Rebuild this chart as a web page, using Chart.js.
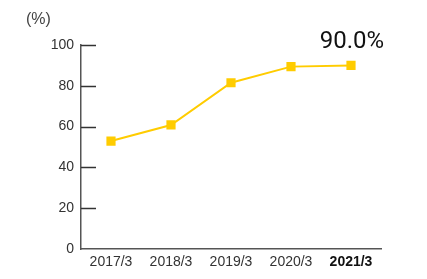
<!DOCTYPE html>
<html>
<head>
<meta charset="utf-8">
<script src="https://cdn.jsdelivr.net/npm/chart.js@4"></script>
<style>
  html, body { margin: 0; padding: 0; background: #fff; }
  #wrap { position: relative; width: 427px; height: 279px; }
</style>
</head>
<body>
<div id="wrap"><canvas id="myChart" width="427" height="279"></canvas></div>
<script>
// Data
const labels = ['2017/3', '2018/3', '2019/3', '2020/3', '2021/3'];
const ratio = [52.9, 60.8, 81.5, 89.4, 90.0];
const yTicks = [0, 20, 40, 60, 80, 100];
const unitLabel = '(%)';
const lastLabel = '90.0%';

const yellow = '#FFCC00';
const fontFamily = '"Liberation Sans", Arial, sans-serif';

// Short tick marks on the inside of the y axis, plus unit and value label
const decorations = {
  id: 'decorations',
  afterDraw(chart) {
    const { ctx, scales: { y } } = chart;
    ctx.save();
    ctx.strokeStyle = '#333';
    ctx.lineWidth = 1.5;
    y.ticks.forEach(t => {
      const py = Math.round(y.getPixelForValue(t.value)) + 0.5;
      if (t.value === 0) return;
      ctx.beginPath();
      ctx.moveTo(y.right, py);
      ctx.lineTo(y.right + 15, py);
      ctx.stroke();
    });

    ctx.fillStyle = '#444';
    ctx.font = '16px ' + fontFamily;
    ctx.textAlign = 'left';
    ctx.textBaseline = 'alphabetic';
    ctx.fillText(unitLabel, 26, 24);

    const meta = chart.getDatasetMeta(0);
    const last = meta.data[meta.data.length - 1];
    ctx.fillStyle = '#111';
    ctx.font = '24px Roboto, ' + fontFamily;
    ctx.textAlign = 'center';
    ctx.fillText(lastLabel, last.x + 1, last.y - 17);
    ctx.restore();
  }
};

const config = {
  type: 'line',
  data: {
    labels: labels,
    datasets: [{
      data: ratio,
      borderColor: yellow,
      backgroundColor: yellow,
      borderWidth: 2,
      pointStyle: 'rect',
      pointRadius: 6.5,
      pointHoverRadius: 6.5,
      pointBorderWidth: 0,
      tension: 0
    }]
  },
  options: {
    responsive: false,
    animation: false,
    layout: { padding: { top: 45, right: 46, left: 0, bottom: 0 } },
    plugins: {
      legend: { display: false },
      tooltip: { enabled: false }
    },
    scales: {
      x: {
        offset: true,
        grid: { display: false, drawTicks: false },
        border: { display: true, color: '#555', width: 1.5 },
        afterFit: s => { s.height = 30; },
        ticks: {
          padding: 5,
          color: ctx => ctx.index === labels.length - 1 ? '#111' : '#333',
          font: ctx => ({
            family: fontFamily,
            size: 14,
            weight: ctx.index === labels.length - 1 ? 'bold' : 'normal'
          })
        }
      },
      y: {
        min: 0,
        max: 100,
        afterFit: s => { s.width = 81; },
        afterBuildTicks: s => { s.ticks = yTicks.map(v => ({ value: v })); },
        grid: { display: false, drawTicks: false },
        border: { display: true, color: '#555', width: 1.5 },
        ticks: {
          padding: 7,
          color: '#333',
          font: { family: fontFamily, size: 14 }
        }
      }
    }
  },
  plugins: [decorations]
};

const myChart = new Chart(document.getElementById('myChart'), config);
</script>
</body>
</html>
